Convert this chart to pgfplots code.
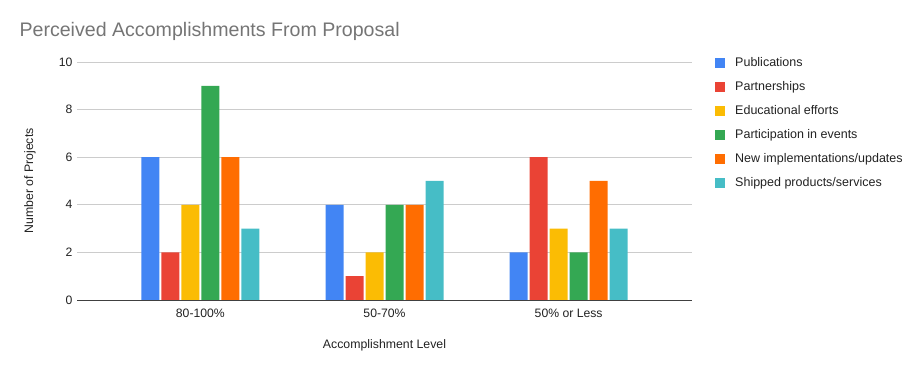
\documentclass[border=0pt]{standalone}
\usepackage{fontspec}
\setmainfont{Liberation Sans}
\usepackage{pgfplots}
\pgfplotsset{compat=1.18}
\definecolor{c1}{HTML}{4285F4}
\definecolor{c2}{HTML}{EA4335}
\definecolor{c3}{HTML}{FBBC04}
\definecolor{c4}{HTML}{34A853}
\definecolor{c5}{HTML}{FF6D01}
\definecolor{c6}{HTML}{46BDC6}
\definecolor{titlegray}{HTML}{757575}
\definecolor{txt}{HTML}{222222}
\begin{document}
\begin{tikzpicture}
\path[use as bounding box] (0pt,0pt) rectangle (920pt,371pt);
\node[anchor=west, text=titlegray, font=\fontsize{19.6}{23}\selectfont] at (16pt,340pt) {Perceived Accomplishments From Proposal};
\begin{axis}[
  at={(77pt,71pt)}, anchor=south west, scale only axis,
  width=615pt, height=238pt,
  ybar=2pt, bar width=18pt,
  xmin=-0.67, xmax=2.67, ymin=0, ymax=10,
  ytick={0,2,...,10}, xtick={0,1,2},
  xticklabels={80-100\%,50-70\%,50\% or Less},
  axis line style={draw=none}, major tick length=0pt,
  ymajorgrids, grid style={draw=black!20, line width=0.6pt},
  extra y ticks={0}, extra y tick labels={},
  extra y tick style={grid style={draw=black!75, line width=0.8pt}},
  tick label style={font=\fontsize{12.2}{14}\selectfont, text=txt},
  /pgf/number format/assume math mode=true,
  xticklabel style={yshift=-5pt},
  yticklabel style={xshift=-1pt},
  ylabel={Number of Projects}, xlabel={Accomplishment Level},
  label style={font=\fontsize{12.3}{14}\selectfont, text=txt},
  ylabel style={at={(axis description cs:-0.0764,0.5)}, anchor=center},
  xlabel style={at={(axis description cs:0.5,0)}, yshift=-45pt, anchor=center},
  legend cell align=left,
  legend style={at={(1,1)}, anchor=north west, xshift=20pt, yshift=6pt, draw=none, fill=none,
    font=\fontsize{12.5}{14}\selectfont, text=txt, row sep=14pt,
    nodes={inner sep=0pt, text height=8pt, text depth=2pt, anchor=west}},
  legend image code/.code={\fill[#1] (0pt,-5pt) rectangle (10pt,5pt);},
]
\addplot[fill=c1, draw=none] coordinates {(0,6) (1,4) (2,2)};
\addplot[fill=c2, draw=none] coordinates {(0,2) (1,1) (2,6)};
\addplot[fill=c3, draw=none] coordinates {(0,4) (1,2) (2,3)};
\addplot[fill=c4, draw=none] coordinates {(0,9) (1,4) (2,2)};
\addplot[fill=c5, draw=none] coordinates {(0,6) (1,4) (2,5)};
\addplot[fill=c6, draw=none] coordinates {(0,3) (1,5) (2,3)};
\legend{\hspace{10pt}Publications,\hspace{10pt}Partnerships,\hspace{10pt}Educational efforts,\hspace{10pt}Participation in events,\hspace{10pt}New implementations/updates,\hspace{10pt}Shipped products/services}
\end{axis}
\end{tikzpicture}
\end{document}
